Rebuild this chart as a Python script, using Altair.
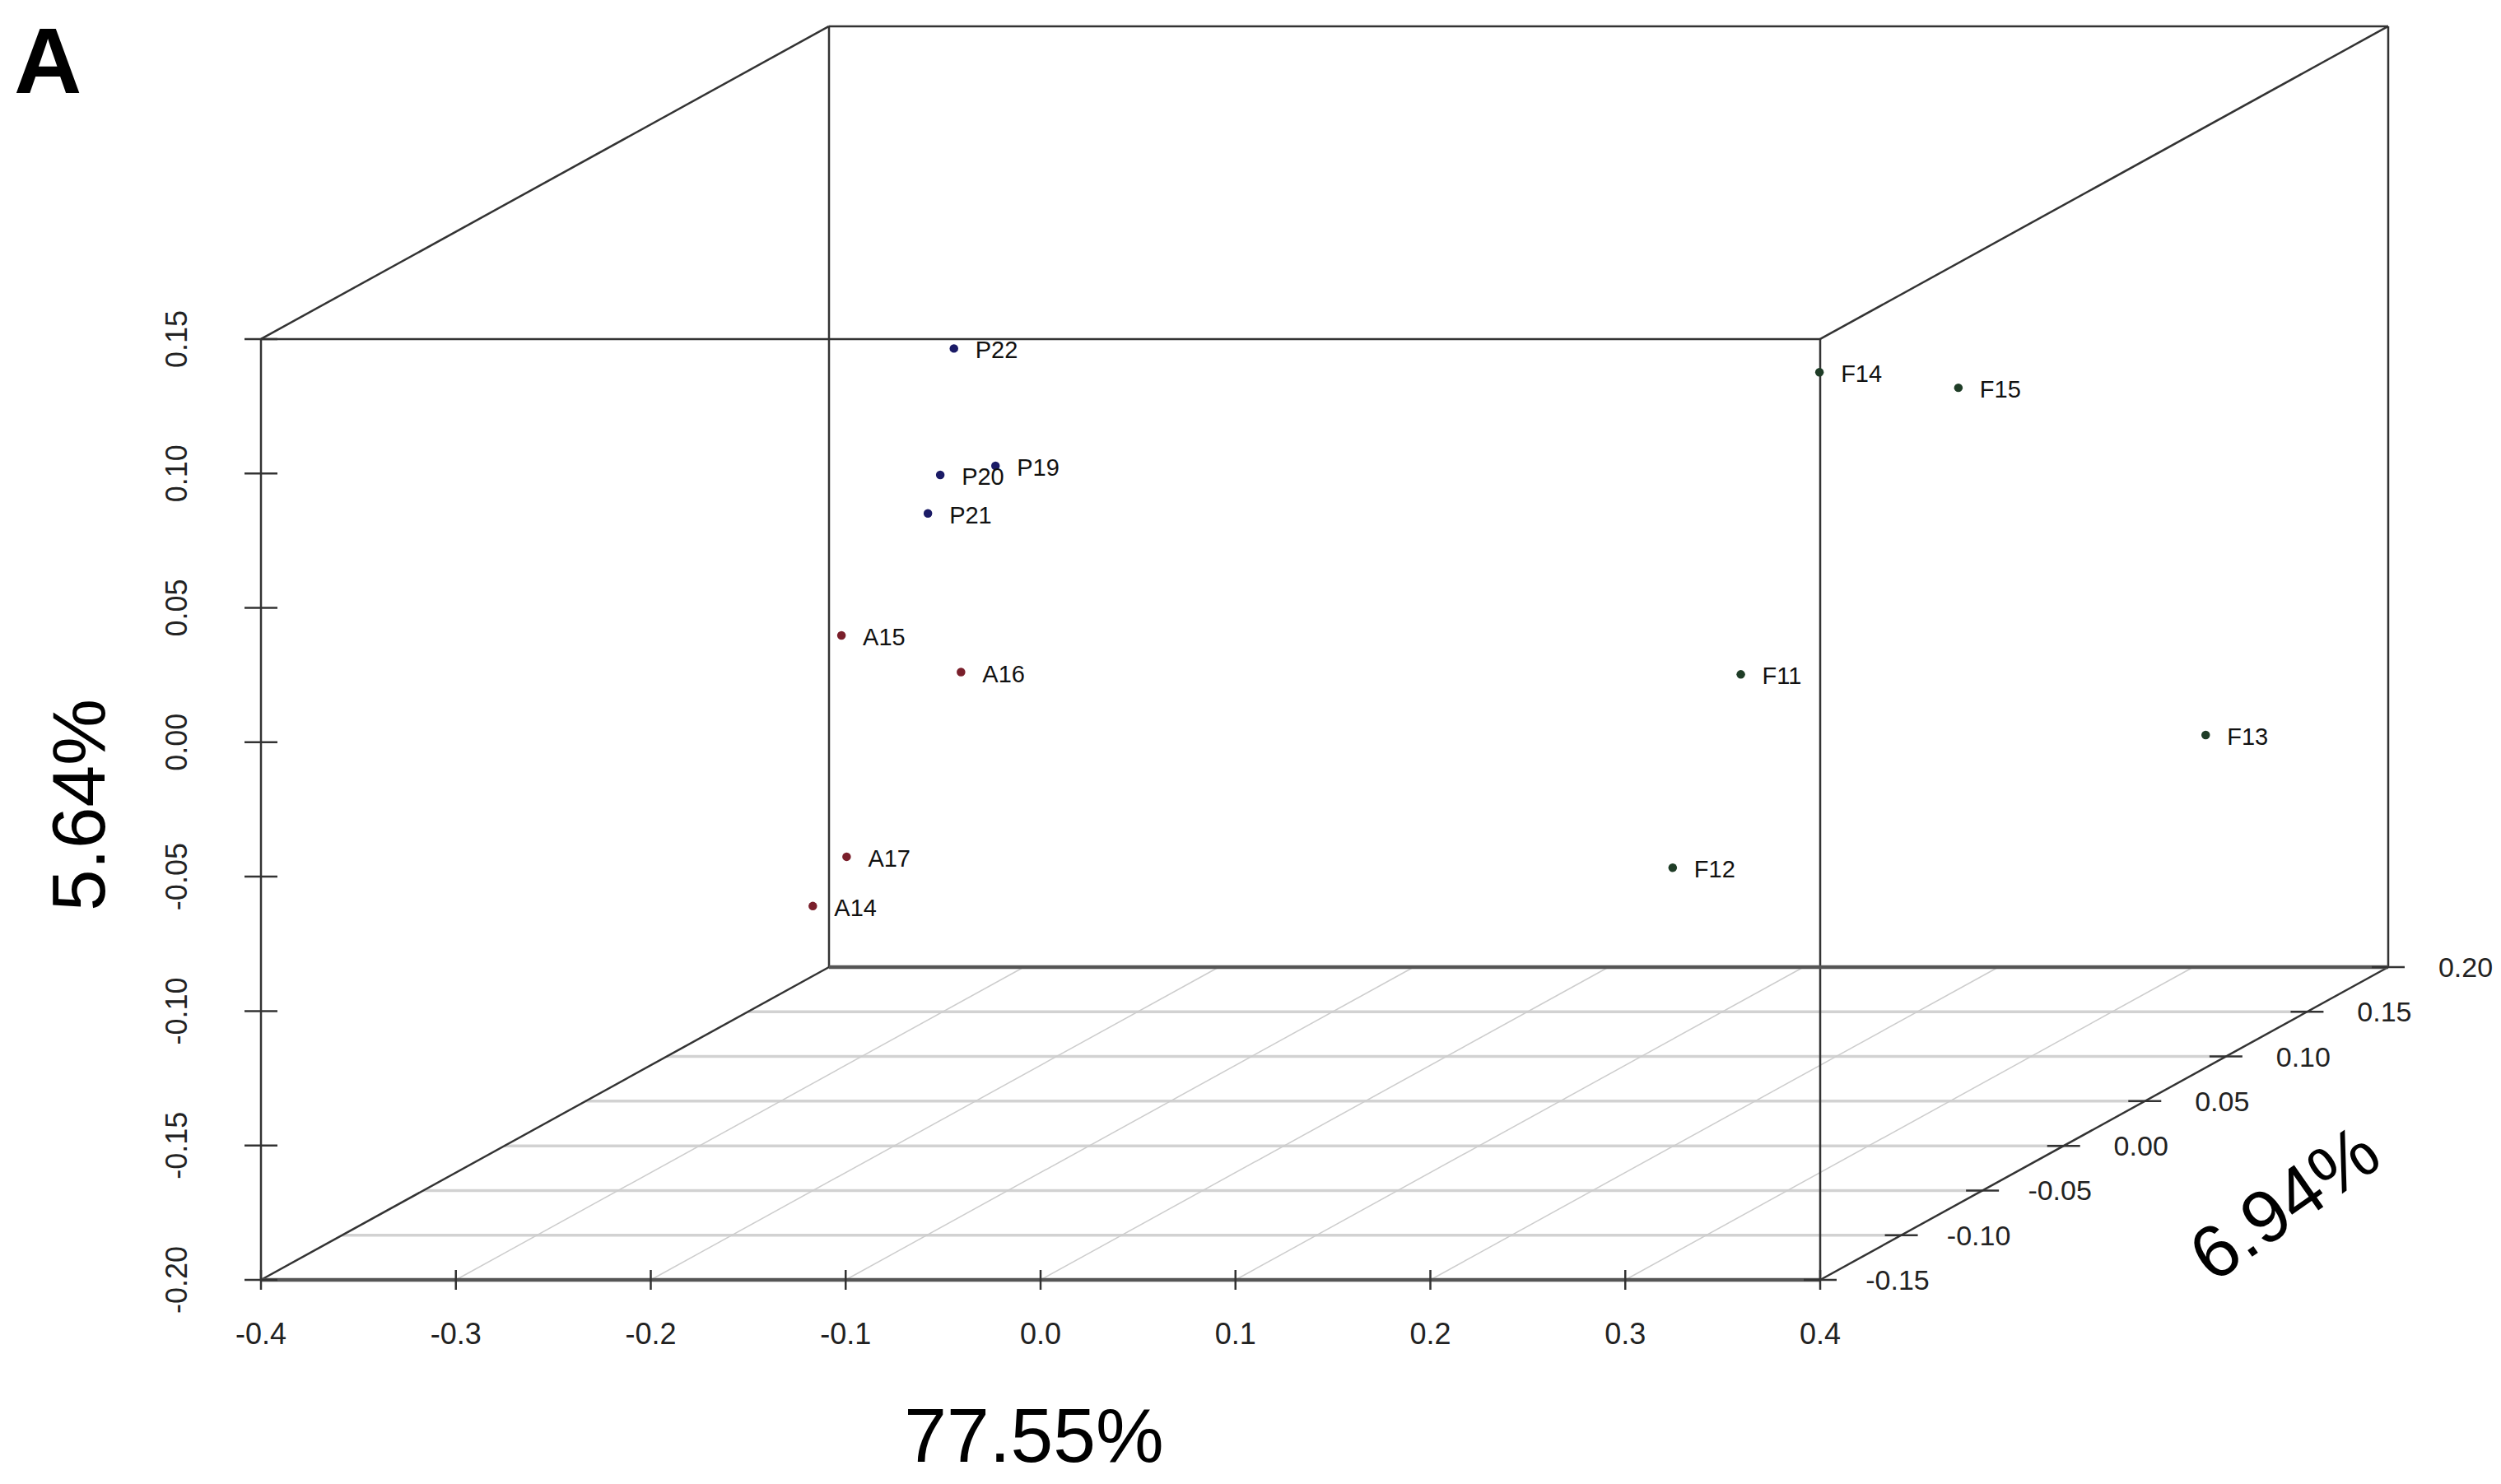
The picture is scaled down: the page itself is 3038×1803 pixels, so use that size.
import altair as alt
import pandas as pd

# ---------------- data ----------------
sample = ["P19", "P20", "P21", "P22", "A14", "A15", "A16", "A17",
          "F11", "F12", "F13", "F14", "F15"]
group = ["P", "P", "P", "P", "A", "A", "A", "A", "F", "F", "F", "F", "F"]
pc_x = [-0.198, -0.243, -0.241, -0.211, -0.375, -0.327, -0.249, -0.341,
        0.276, 0.316, 0.323, 0.358, 0.346]          # 77.55 %
pc_y = [0.033, 0.023, 0.012, 0.080, -0.164, -0.050, -0.057, -0.139,
        -0.008, -0.050, -0.107, 0.121, 0.082]       # 5.64 %
pc_z = [0.06, 0.08, 0.07, 0.05, 0.16, 0.12, 0.10, 0.14,
        -0.05, -0.14, 0.18, -0.10, 0.00]            # 6.94 %

x_ticks = [-0.4, -0.3, -0.2, -0.1, 0.0, 0.1, 0.2, 0.3, 0.4]
x_tick_labels = ["-0.4", "-0.3", "-0.2", "-0.1", "0.0", "0.1", "0.2", "0.3", "0.4"]
y_ticks = [-0.20, -0.15, -0.10, -0.05, 0.00, 0.05, 0.10, 0.15]
y_tick_labels = ["-0.20", "-0.15", "-0.10", "-0.05", "0.00", "0.05", "0.10", "0.15"]
z_ticks = [-0.15, -0.10, -0.05, 0.00, 0.05, 0.10, 0.15, 0.20]
z_tick_labels = ["-0.15", "-0.10", "-0.05", "0.00", "0.05", "0.10", "0.15", "0.20"]

x_title = "77.55%"
y_title = "5.64%"
z_title = "6.94%"
panel_label = "A"

group_names = ["P", "A", "F"]
group_colors = ["#1b1b66", "#7a1f2b", "#1f3d27"]

# ---------------- geometry of the oblique projection ----------------
X_MIN, X_MAX = x_ticks[0], x_ticks[-1]
Y_MIN, Y_MAX = y_ticks[0], y_ticks[-1]
Z_MIN, Z_MAX = z_ticks[0], z_ticks[-1]

W, H = 2690, 1531
PX_PER_X = 2367.5
PX_PER_Y = 3266.0
DEPTH_PX_X, DEPTH_PX_Y = 690.0, 380.0
DX = DEPTH_PX_X / (Z_MAX - Z_MIN) / PX_PER_X
DY = DEPTH_PX_Y / (Z_MAX - Z_MIN) / PX_PER_Y

xs = alt.Scale(domain=[X_MIN, X_MIN + W / PX_PER_X], nice=False, zero=False)
ys = alt.Scale(domain=[Y_MIN, Y_MIN + H / PX_PER_Y], nice=False, zero=False)

FONT = "Liberation Sans"


def px(xf, zf):
    return f"datum.{xf} + (datum.{zf} - ({Z_MIN})) * {DX}"


def py(yf, zf):
    return f"datum.{yf} + (datum.{zf} - ({Z_MIN})) * {DY}"


def segs(rows):
    return pd.DataFrame(rows, columns=["x1", "y1", "z1", "x2", "y2", "z2"])


def seg_layer(df, color, width):
    return (
        alt.Chart(df)
        .transform_calculate(px1=px("x1", "z1"), py1=py("y1", "z1"),
                             px2=px("x2", "z2"), py2=py("y2", "z2"))
        .mark_rule(color=color, strokeWidth=width)
        .encode(x=alt.X("px1:Q", scale=xs, axis=None),
                y=alt.Y("py1:Q", scale=ys, axis=None),
                x2="px2:Q", y2="py2:Q")
    )


# floor grid
grid_h = segs([(X_MIN, Y_MIN, z, X_MAX, Y_MIN, z) for z in z_ticks[1:-1]])
grid_d = segs([(x, Y_MIN, Z_MIN, x, Y_MIN, Z_MAX) for x in x_ticks[1:-1]])

# box
box_thin = segs([
    (X_MIN, Y_MIN, Z_MIN, X_MIN, Y_MAX, Z_MIN),
    (X_MIN, Y_MAX, Z_MIN, X_MAX, Y_MAX, Z_MIN),
    (X_MAX, Y_MIN, Z_MIN, X_MAX, Y_MAX, Z_MIN),
    (X_MIN, Y_MIN, Z_MAX, X_MIN, Y_MAX, Z_MAX),
    (X_MIN, Y_MAX, Z_MAX, X_MAX, Y_MAX, Z_MAX),
    (X_MAX, Y_MIN, Z_MAX, X_MAX, Y_MAX, Z_MAX),
    (X_MIN, Y_MAX, Z_MIN, X_MIN, Y_MAX, Z_MAX),
    (X_MAX, Y_MAX, Z_MIN, X_MAX, Y_MAX, Z_MAX),
    (X_MIN, Y_MIN, Z_MIN, X_MIN, Y_MIN, Z_MAX),
    (X_MAX, Y_MIN, Z_MIN, X_MAX, Y_MIN, Z_MAX),
])
box_thick = segs([
    (X_MIN, Y_MIN, Z_MIN, X_MAX, Y_MIN, Z_MIN),
    (X_MIN, Y_MIN, Z_MAX, X_MAX, Y_MIN, Z_MAX),
])

layers = [
    seg_layer(grid_h, "#d2d2d2", 3.5),
    seg_layer(grid_d, "#cdcdcd", 1.5),
    seg_layer(box_thin, "#333333", 2.5),
    seg_layer(box_thick, "#555555", 4.5),
]

# ticks
xt = pd.DataFrame({"x": x_ticks, "y": Y_MIN, "z": Z_MIN, "label": x_tick_labels})
yt = pd.DataFrame({"x": X_MIN, "y": y_ticks, "z": Z_MIN, "label": y_tick_labels})
zt = pd.DataFrame({"x": X_MAX, "y": Y_MIN, "z": z_ticks, "label": z_tick_labels})


def base(df):
    return alt.Chart(df).transform_calculate(px=px("x", "z"), py=py("y", "z"))


X = alt.X("px:Q", scale=xs, axis=None)
Y = alt.Y("py:Q", scale=ys, axis=None)

layers += [
    base(xt).mark_rule(color="#333333", strokeWidth=2.5, yOffset=-12, y2Offset=12)
    .encode(x=X, y=Y, y2="py:Q"),
    base(yt).mark_rule(color="#333333", strokeWidth=2.5, xOffset=-20, x2Offset=20)
    .encode(x=X, x2="px:Q", y=Y),
    base(zt).mark_rule(color="#333333", strokeWidth=2.5, xOffset=-20, x2Offset=20)
    .encode(x=X, x2="px:Q", y=Y),
    base(xt).mark_text(font=FONT, fontSize=36, color="#222222", align="center",
                       baseline="alphabetic", dy=78)
    .encode(x=X, y=Y, text="label:N"),
    base(yt).mark_text(font=FONT, fontSize=36, color="#222222", align="center",
                       baseline="alphabetic", angle=270)
    .encode(x=alt.value(-90), y=Y, text="label:N"),
    base(zt).mark_text(font=FONT, fontSize=34, color="#222222", align="center",
                       baseline="alphabetic", dx=94, dy=12)
    .encode(x=X, y=Y, text="label:N"),
]

# points
pts = pd.DataFrame({"sample": sample, "group": group, "x": pc_x, "y": pc_y, "z": pc_z})
layers += [
    base(pts).mark_circle(size=110, opacity=1)
    .encode(x=X, y=Y,
            color=alt.Color("group:N",
                            scale=alt.Scale(domain=group_names, range=group_colors),
                            legend=None)),
    base(pts).mark_text(font=FONT, fontSize=29, color="#111111", align="left",
                        baseline="middle", dx=26, dy=3)
    .encode(x=X, y=Y, text="sample:N"),
]

# titles
def title_layer(txt, xv, yv, size, angle=0, weight="normal", align="center",
                baseline="alphabetic"):
    return (
        alt.Chart(pd.DataFrame({"t": [txt]}))
        .mark_text(font=FONT, fontSize=size, fontWeight=weight, angle=angle,
                   align=align, baseline=baseline, color="#000000")
        .encode(x=alt.value(xv), y=alt.value(yv), text="t:N")
    )


layers += [
    title_layer(x_title, 939, 1752, 93),
    title_layer(y_title, -190, 954, 91, angle=270),
    title_layer(z_title, 2460, 1441, 90, angle=325, baseline="middle"),
    title_layer(panel_label, -300, 89, 114, weight="bold", align="left"),
]

chart = (
    alt.layer(*layers)
    .properties(width=W, height=H,
                padding={"left": 309, "top": 16, "right": 22, "bottom": 248},
                autosize=alt.AutoSizeParams(type="none"))
    .configure_view(strokeWidth=0)
)

chart.save("out.html", embed_options={"renderer": "svg", "actions": False})
